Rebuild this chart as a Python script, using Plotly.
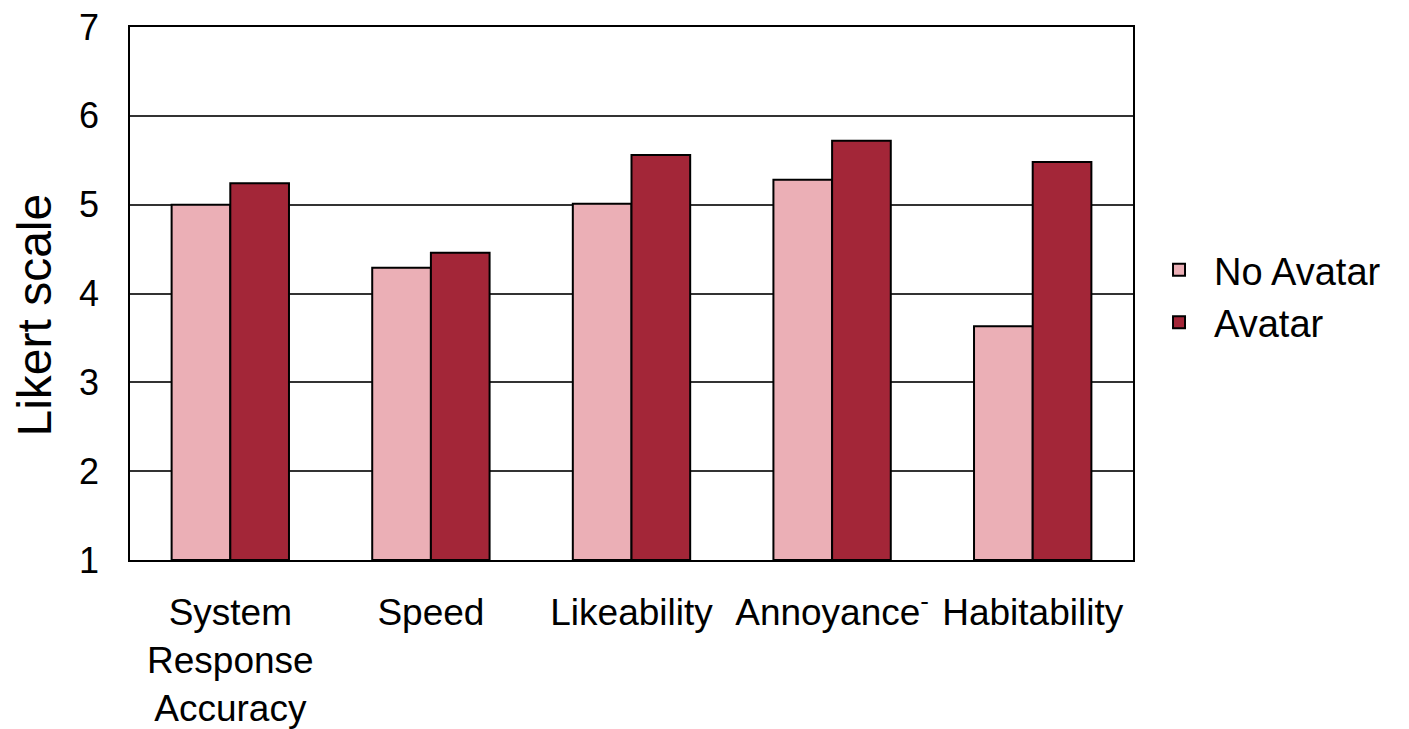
import plotly.graph_objects as go

categories = ["System<br>Response<br>Accuracy", "Speed", "Likeability", "Annoyance<sup>-</sup>", "Habitability"]
no_avatar = [5.00, 4.29, 5.01, 5.28, 3.63]
avatar = [5.24, 4.46, 5.56, 5.72, 5.48]
y_ticks = [1, 2, 3, 4, 5, 6, 7]
y_title = "Likert scale"

fig = go.Figure()
fig.add_trace(go.Bar(x=categories, y=[v - 1 for v in no_avatar], base=1, name="No Avatar",
                     marker=dict(color="#EBAFB6", line=dict(color="black", width=2))))
fig.add_trace(go.Bar(x=categories, y=[v - 1 for v in avatar], base=1, name="Avatar",
                     marker=dict(color="#A32638", line=dict(color="black", width=2))))

# page body has an 8px default margin; size the figure to fit the 1409x729 window
fig.update_layout(
    width=1401, height=721,
    margin=dict(l=122, r=276, t=19, b=169),
    paper_bgcolor="white", plot_bgcolor="white",
    barmode="group", bargap=0.415, bargroupgap=0,
    font=dict(family="Liberation Sans, Arial, sans-serif", size=37, color="black"),
    legend=dict(x=1.011, y=0.495, xanchor="left", yanchor="middle",
                font=dict(size=38), tracegroupgap=0, itemwidth=60),
    xaxis=dict(showline=True, linecolor="black", linewidth=1.5, mirror=True, automargin=False,
               ticks="", ticklabelstandoff=19, tickfont=dict(size=37)),
    yaxis=dict(range=[1, 7], tickvals=y_ticks, showline=True, linecolor="black", linewidth=1.5,
               mirror=True, showgrid=True, gridcolor="#333333", gridwidth=1.5, automargin=False,
               ticks="", ticklabelstandoff=22, tickfont=dict(size=36), ticklabeloverflow="allow"),
    annotations=[dict(text=y_title, xref="paper", yref="paper", x=-0.095, y=0.46,
                      xanchor="center", yanchor="middle", textangle=-90, showarrow=False,
                      font=dict(size=48))],
)
fig.write_html("out.html")
